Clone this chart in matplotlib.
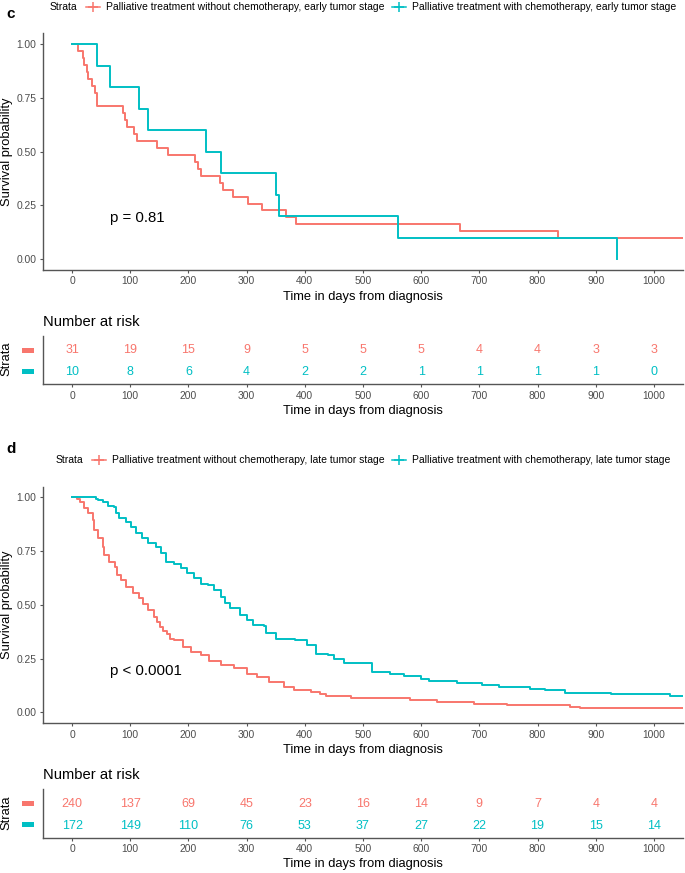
import numpy as np
import matplotlib
matplotlib.use('Agg')
import matplotlib.pyplot as plt
from matplotlib.lines import Line2D
from matplotlib.patches import Rectangle

plt.rcParams['font.family'] = ['Liberation Sans', 'DejaVu Sans']

RED = '#F8766D'
CYAN = '#00BFC4'

# ******************
# panel c: early tumor stage (days, survival probability)
c_red_t = [0, 10, 18, 21, 26, 28, 34, 39, 43, 88, 91, 94, 107, 112, 146, 164, 212, 217, 222,
           255, 259, 277, 303, 327, 368, 384, 667, 836, 1050]
c_red_s = [1.000, 0.968, 0.935, 0.903, 0.871, 0.839, 0.806, 0.774, 0.710, 0.677, 0.645, 0.613,
           0.581, 0.548, 0.516, 0.484, 0.452, 0.419, 0.387, 0.355, 0.323, 0.290, 0.258, 0.226,
           0.194, 0.161, 0.129, 0.097, 0.097]
c_cyan_t = [0, 43, 65, 115, 130, 230, 256, 351, 356, 561, 936]
c_cyan_s = [1.0, 0.9, 0.8, 0.7, 0.6, 0.5, 0.4, 0.3, 0.2, 0.1, 0.0]

# panel d: late tumor stage
d_red_t = [0, 9, 13, 21, 27, 36, 38, 44, 53, 55, 64, 73, 78, 84, 93, 104, 115, 122, 130, 140,
           146, 151, 157, 163, 168, 176, 190, 204, 221, 235, 256, 278, 301, 318, 338, 364, 381,
           410, 426, 437, 479, 581, 627, 690, 747, 856, 873, 1050]
d_red_s = [1.0, 0.99, 0.98, 0.949, 0.925, 0.894, 0.848, 0.809, 0.77, 0.731, 0.70, 0.677, 0.638,
           0.615, 0.584, 0.553, 0.53, 0.506, 0.475, 0.444, 0.42, 0.397, 0.38, 0.366, 0.343, 0.335,
           0.304, 0.281, 0.265, 0.239, 0.219, 0.208, 0.18, 0.165, 0.141, 0.118, 0.102, 0.095,
           0.087, 0.075, 0.068, 0.058, 0.048, 0.04, 0.033, 0.025, 0.019, 0.019]
d_cyan_t = [0, 41, 44, 53, 61, 72, 76, 81, 93, 101, 110, 121, 130, 144, 153, 161, 176, 187, 198,
            210, 221, 233, 244, 256, 263, 271, 288, 300, 311, 329, 334, 351, 383, 403, 420, 440,
            450, 467, 516, 546, 570, 599, 613, 661, 704, 733, 787, 813, 847, 927, 1027, 1050]
d_cyan_s = [1.0, 0.994, 0.987, 0.98, 0.96, 0.955, 0.925, 0.902, 0.886, 0.863, 0.832, 0.809, 0.786,
            0.77, 0.739, 0.70, 0.692, 0.669, 0.646, 0.623, 0.596, 0.592, 0.568, 0.537, 0.51, 0.483,
            0.452, 0.43, 0.405, 0.40, 0.367, 0.343, 0.338, 0.312, 0.273, 0.266, 0.25, 0.227, 0.188,
            0.18, 0.168, 0.157, 0.146, 0.134, 0.126, 0.118, 0.11, 0.102, 0.092, 0.084, 0.075, 0.075]

# number at risk
risk_times = [0, 100, 200, 300, 400, 500, 600, 700, 800, 900, 1000]
c_red_risk = [31, 19, 15, 9, 5, 5, 5, 4, 4, 3, 3]
c_cyan_risk = [10, 8, 6, 4, 2, 2, 1, 1, 1, 1, 0]
d_red_risk = [240, 137, 69, 45, 23, 16, 14, 9, 7, 4, 4]
d_cyan_risk = [172, 149, 110, 76, 53, 37, 27, 22, 19, 15, 14]

c_labels = ['Palliative treatment without chemotherapy, early tumor stage',
            'Palliative treatment with chemotherapy, early tumor stage']
d_labels = ['Palliative treatment without chemotherapy, late tumor stage',
            'Palliative treatment with chemotherapy, late tumor stage']
y_ticks = [0.0, 0.25, 0.5, 0.75, 1.0]
y_ticklabels = ['0.00', '0.25', '0.50', '0.75', '1.00']

# *****************************
W, H = 685, 873
fig = plt.figure(figsize=(W / 100, H / 100), dpi=100)
renderer = fig.canvas.get_renderer()


def fx(px):
    return px / W


def fy(py):
    return 1 - py / H


def box(l, t, r, b):
    return [fx(l), fy(b), (r - l) / W, (b - t) / H]


GREY = '#4d4d4d'


def style_axes(ax):
    for s in ['top', 'right']:
        ax.spines[s].set_visible(False)
    for s in ['left', 'bottom']:
        ax.spines[s].set_color('#555555')
        ax.spines[s].set_linewidth(1.0)
    ax.tick_params(colors='#555555', labelcolor=GREY, labelsize=7.4, length=2.5, width=0.8, pad=2.2)
    ax.set_xlim(-50, 1050)
    ax.set_xticks(risk_times)
    ax.set_xticklabels([str(t) for t in risk_times])


def legend_row(yc, labels):
    title = fig.text(0, fy(yc), 'Strata', fontsize=7.5, va='center', ha='left')
    t1 = fig.text(0, fy(yc), labels[0], fontsize=7.5, va='center', ha='left')
    t2 = fig.text(0, fy(yc), labels[1], fontsize=7.5, va='center', ha='left')
    w0 = title.get_window_extent(renderer).width
    w1 = t1.get_window_extent(renderer).width
    w2 = t2.get_window_extent(renderer).width
    key = 14
    total = w0 + 9 + key + 6.5 + w1 + 7 + key + 6.6 + w2
    x = 363 - total / 2
    title.set_x(fx(x))
    x += w0 + 9
    for t, w, col in [(t1, w1, RED), (t2, w2, CYAN)]:
        fig.add_artist(Line2D([fx(x), fx(x + key)], [fy(yc), fy(yc)], transform=fig.transFigure,
                              color=col, lw=1.1))
        fig.add_artist(Line2D([fx(x + key / 2)], [fy(yc)], transform=fig.transFigure,
                              color=col, marker='+', ms=7, mew=1.1))
        x += key + 6.5
        t.set_x(fx(x))
        x += w + 7


def draw_panel(dy, letter, letter_y, labels, red_t, red_s, cyan_t, cyan_s, pval, red_risk, cyan_risk):
    fig.text(fx(6.5), fy(letter_y), letter, fontsize=11, fontweight='bold', va='center', ha='left')
    legend_row(7 + dy, labels)

    # survival curves
    ax = fig.add_axes(box(43, 33.25 + dy, 683, 269.75 + dy))
    style_axes(ax)
    ax.step(red_t, red_s, where='post', color=RED, lw=1.4)
    ax.step(cyan_t, cyan_s, where='post', color=CYAN, lw=1.4)
    ax.set_ylim(-0.05, 1.05)
    ax.set_yticks(y_ticks)
    ax.set_yticklabels(y_ticklabels)
    ax.text(65, 0.19, pval, fontsize=10.8, va='center', ha='left')
    fig.text(fx(6.7), fy(151.5 + dy), 'Survival probability', rotation=90, fontsize=9.3,
             va='center', ha='center')
    fig.text(fx(363), fy(296.7 + dy), 'Time in days from diagnosis', fontsize=9.3,
             va='center', ha='center')

    # risk table
    tx = fig.add_axes(box(43, 336 + dy, 683, 384.3 + dy))
    style_axes(tx)
    tx.set_ylim(0.45, 2.65)
    tx.set_yticks([])
    for t, n in zip(risk_times, red_risk):
        tx.text(t, 2, str(n), color=RED, fontsize=9, ha='center', va='center')
    for t, n in zip(risk_times, cyan_risk):
        tx.text(t, 1, str(n), color=CYAN, fontsize=9, ha='center', va='center')
    fig.text(fx(43), fy(321.7 + dy), 'Number at risk', fontsize=10.6, va='center', ha='left')
    fig.text(fx(6.5), fy(359 + dy), 'Strata', rotation=90, fontsize=9.3, va='center', ha='center')
    for yc, col in [(350.4 + dy, RED), (371.5 + dy, CYAN)]:
        fig.add_artist(Rectangle((fx(22), fy(yc + 2.3)), 12 / W, 4.6 / H,
                                 transform=fig.transFigure, color=col, lw=0))
    fig.text(fx(363), fy(410.7 + dy), 'Time in days from diagnosis', fontsize=9.3,
             va='center', ha='center')


draw_panel(0, 'c', 13.5, c_labels, c_red_t, c_red_s, c_cyan_t, c_cyan_s, 'p = 0.81',
           c_red_risk, c_cyan_risk)
draw_panel(453.3, 'd', 449, d_labels, d_red_t, d_red_s, d_cyan_t, d_cyan_s, 'p < 0.0001',
           d_red_risk, d_cyan_risk)

fig.savefig('out.png', dpi=100)
